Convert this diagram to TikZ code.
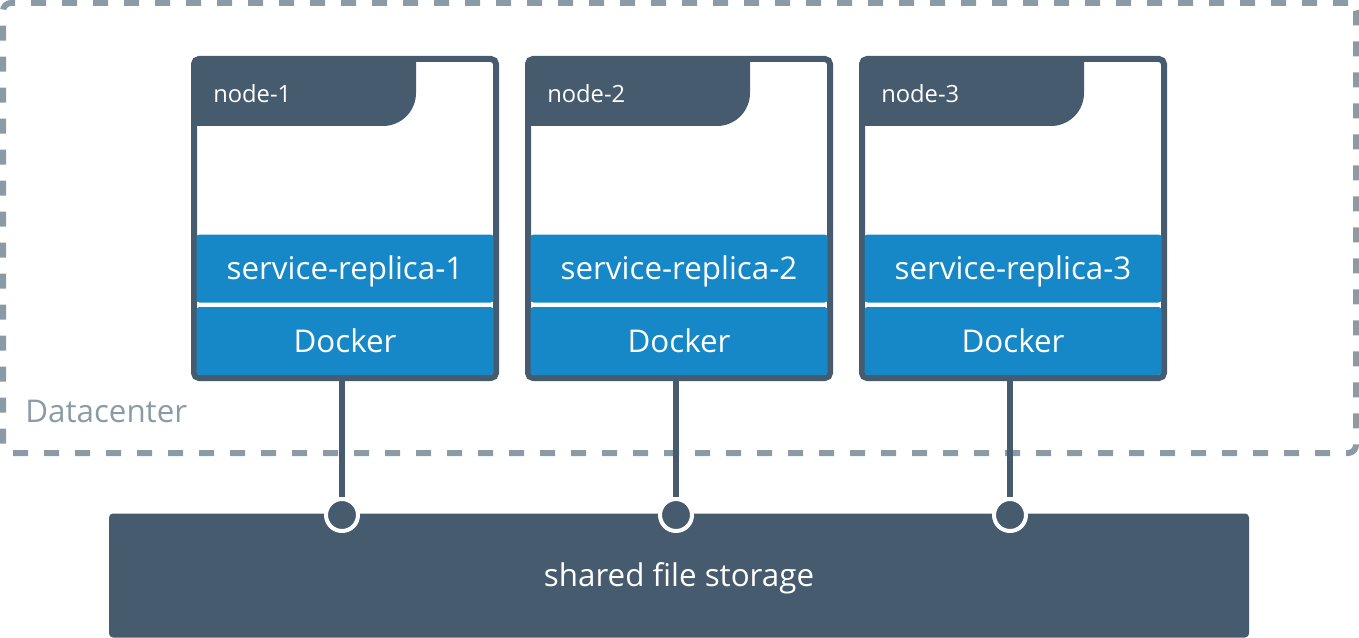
\documentclass[tikz,border=0pt]{standalone}
\usepackage{fontspec}
\setmainfont{Open Sans}
\usetikzlibrary{backgrounds,positioning}
\definecolor{slate}{HTML}{465B6D}
\definecolor{dockerblue}{HTML}{1688C8}
\definecolor{dashgray}{HTML}{8A9BA6}

\begin{document}
\begin{tikzpicture}[x=0.75pt,y=-0.75pt,
frame/.style={draw=slate, line width=4.5pt, rounded corners=3.75pt, outer sep=0pt,
  minimum width=226.5pt, minimum height=239.25pt, inner sep=0pt},
layer/.style={fill=dockerblue, rounded corners=2.25pt, text=white, inner sep=0pt,
  minimum width=222.75pt, minimum height=51pt, text height=16.8pt, text depth=0pt,
  font=\fontsize{23.5}{27}\selectfont},
hostname/.style={anchor=base west, text=white, inner sep=0pt, font=\fontsize{17.8}{21}\selectfont},
joint/.style={circle, fill=slate, draw=white, line width=3pt, minimum size=24pt, inner sep=0pt},
link/.style={draw=slate, line width=4.5pt}]
\useasboundingbox (0,0) rectangle (1359,638);

% hosts
\node[frame] (n1) at (345,218.5) {};
\node[frame] (n2) at (679,218.5) {};
\node[frame] (n3) at (1013,218.5) {};
\fill[slate] (n1.north west) -- ++(222,0) -- ++(0,34) arc[start angle=0, end angle=-90, radius=24.75pt] -- ++(-189,0) -- cycle;
\fill[slate] (n2.north west) -- ++(222,0) -- ++(0,34) arc[start angle=0, end angle=-90, radius=24.75pt] -- ++(-189,0) -- cycle;
\fill[slate] (n3.north west) -- ++(222,0) -- ++(0,34) arc[start angle=0, end angle=-90, radius=24.75pt] -- ++(-189,0) -- cycle;
\node[hostname] (h1) at (213,103) {node-1};
\node[hostname] (h2) at (547,103) {node-2};
\node[hostname] (h3) at (881,103) {node-3};

\node[layer] (s1) at (345,268.5) {service-replica-1};
\node[layer] (s2) at (679,268.5) {service-replica-2};
\node[layer] (s3) at (1013,268.5) {service-replica-3};
\node[layer, below=3pt of s1] (d1) {Docker};
\node[layer, below=3pt of s2] (d2) {Docker};
\node[layer, below=3pt of s3] (d3) {Docker};

\node[anchor=base west, text=dashgray, inner sep=0pt, font=\fontsize{23.5}{27}\selectfont] (dclabel) at (25,422) {Datacenter};

% storage
\node[fill=slate, rounded corners=3pt, text=white, minimum width=855pt, minimum height=93pt,
  text height=16.8pt, text depth=0pt, font=\fontsize{23.5}{27}\selectfont] (st) at (679,575.5) {shared file storage};
\node[joint] (c1) at (342,515) {};
\node[joint] (c2) at (676,515) {};
\node[joint] (c3) at (1010,515) {};

\begin{scope}[on background layer]
\node[draw=dashgray, line width=4.5pt, dash pattern=on 11.25pt off 12pt, rounded corners=6pt,
  minimum width=1014.75pt, minimum height=337.5pt] (dc) at (679.5,228) {};
\draw[link] (d1.south -| c1) -- (c1);
\draw[link] (d2.south -| c2) -- (c2);
\draw[link] (d3.south -| c3) -- (c3);
\end{scope}
\end{tikzpicture}
\end{document}
